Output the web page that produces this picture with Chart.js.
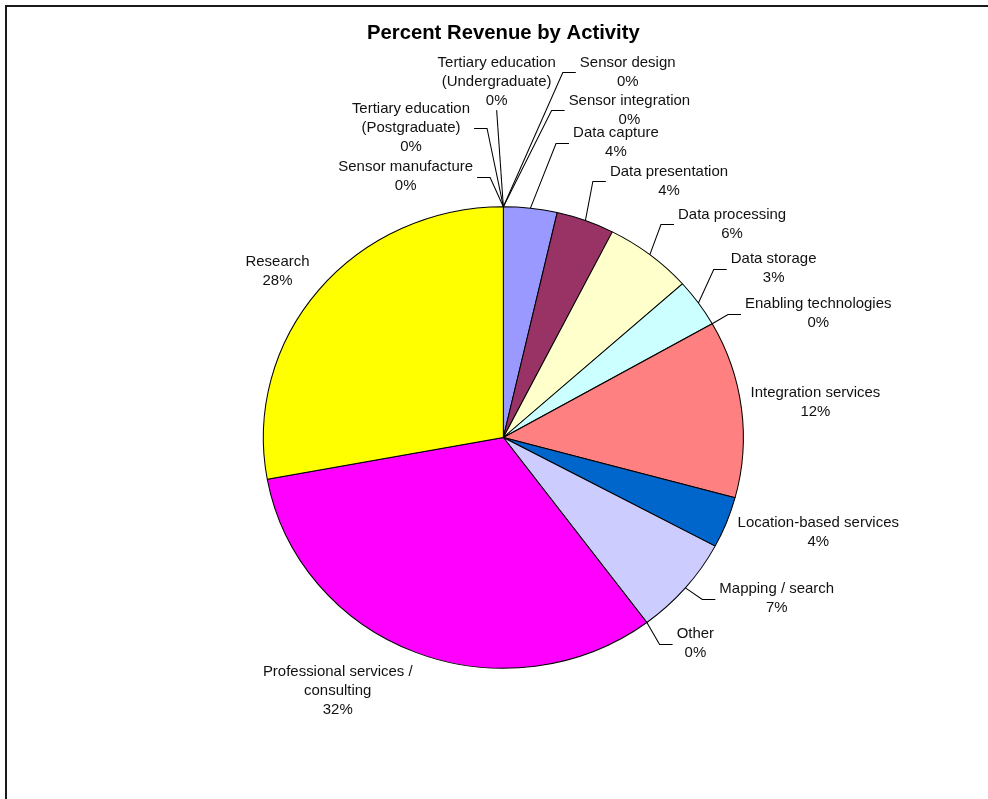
<!DOCTYPE html>
<html>
<head>
<meta charset="utf-8">
<title>Percent Revenue by Activity</title>
<script src="https://cdn.jsdelivr.net/npm/chart.js@4/dist/chart.umd.min.js"></script>
<style>
  html, body { margin: 0; padding: 0; background: #fff; }
  #frame { position: absolute; left: 0; top: 0; width: 988px; height: 799px; overflow: hidden; }
  #edge { position: absolute; left: 5px; top: 5px; right: -10px; bottom: -10px;
          border-top: 2px solid #1a1a1a; border-left: 2px solid #1a1a1a; }
  #chart { position: absolute; left: 0; top: 0; }
</style>
</head>
<body>
<div id="frame">
  <div id="edge"></div>
  <canvas id="chart" width="988" height="799"></canvas>
</div>
<script>
// Revenue share per activity (percent of total)
const categories = [
  'Data capture', 'Data presentation', 'Data processing', 'Data storage',
  'Enabling technologies', 'Integration services', 'Location-based services',
  'Mapping / search', 'Other', 'Professional services / consulting', 'Research',
  'Sensor design', 'Sensor integration', 'Sensor manufacture',
  'Tertiary education (Postgraduate)', 'Tertiary education (Undergraduate)'
];
const revenueShare = [3.6, 3.9, 5.9, 3.4, 0, 12.4, 3.6, 7.0, 0, 32.3, 27.9, 0, 0, 0, 0, 0];
const sliceColours = [
  '#9999FF', '#993366', '#FFFFCC', '#CCFFFF', '#660066', '#FF8080', '#0066CC',
  '#CCCCFF', '#000080', '#FF00FF', '#FFFF00', '#00FFFF', '#800080', '#800000',
  '#008080', '#0000FF'
];
const chartTitle = 'Percent Revenue by Activity';

// Label box centres, in pie radii from the pie centre (x right, y down)
const labelSpots = {
  'Data capture': [0.469, -1.277],
  'Data presentation': [0.690, -1.110],
  'Data processing': [0.953, -0.923],
  'Data storage': [1.126, -0.731],
  'Enabling technologies': [1.312, -0.537],
  'Integration services': [1.300, -0.150],
  'Location-based services': [1.312, 0.413],
  'Mapping / search': [1.139, 0.699],
  'Other': [0.800, 0.893],
  'Professional services / consulting': [-0.690, 1.097],
  'Research': [-0.941, -0.718],
  'Sensor design': [0.518, -1.583],
  'Sensor integration': [0.525, -1.417],
  'Sensor manufacture': [-0.407, -1.130],
  'Tertiary education (Postgraduate)': [-0.385, -1.340],
  'Tertiary education (Undergraduate)': [-0.028, -1.542]
};

const FONT = '"Liberation Sans", Arial, Helvetica, sans-serif';
const stretchX = 1.04;      // horizontal stretch of the whole drawing
const pieRadius = 230.8;
const labelFontSize = 14.4;
const labelLineH = 19;
const labelPad = 3.9;
const elbowLen = 12.5;
const wrapWidth = 165;
const leaderThreshold = 14;

const stretchPlugin = {
  id: 'stretchX',
  beforeDraw(chart) { chart.ctx.save(); chart.ctx.scale(stretchX, 1); },
  afterDraw(chart) { chart.ctx.restore(); }
};

function wrapText(ctx, text, maxW) {
  const words = text.split(' ');
  const out = [];
  let cur = '';
  words.forEach(w => {
    const t = cur ? cur + ' ' + w : w;
    if (cur && ctx.measureText(t).width > maxW) { out.push(cur); cur = w; }
    else cur = t;
  });
  if (cur) out.push(cur);
  return out;
}

const sliceLabelPlugin = {
  id: 'sliceLabels',
  afterDatasetsDraw(chart) {
    const ctx = chart.ctx;
    const meta = chart.getDatasetMeta(0);
    const values = chart.data.datasets[0].data;
    const total = values.reduce((a, b) => a + b, 0);
    ctx.save();
    ctx.font = labelFontSize + 'px ' + FONT;
    ctx.fillStyle = '#111';
    ctx.strokeStyle = '#000';
    ctx.lineWidth = 1;
    ctx.textAlign = 'center';
    ctx.textBaseline = 'middle';
    meta.data.forEach((arc, i) => {
      const p = arc.getProps(['x', 'y', 'startAngle', 'endAngle', 'outerRadius'], true);
      const mid = (p.startAngle + p.endAngle) / 2;
      const ax = p.x + Math.cos(mid) * p.outerRadius;
      const ay = p.y + Math.sin(mid) * p.outerRadius;
      const name = chart.data.labels[i];
      const lines = wrapText(ctx, name, wrapWidth);
      lines.push(Math.round(values[i] / total * 100) + '%');
      const spot = labelSpots[name];
      const bx = p.x + spot[0] * p.outerRadius;
      const by = p.y + spot[1] * p.outerRadius;
      const w = Math.max(...lines.map(l => ctx.measureText(l).width)) + 2 * labelPad;
      const h = lines.length * labelLineH;
      const left = bx - w / 2, right = bx + w / 2, top = by - h / 2, bottom = by + h / 2;
      // distance from slice anchor to label box
      const nx = Math.min(Math.max(ax, left), right);
      const ny = Math.min(Math.max(ay, top), bottom);
      const dist = Math.hypot(ax - nx, ay - ny);
      if (dist > leaderThreshold) {
        ctx.beginPath();
        ctx.moveTo(ax, ay);
        if (ax >= left && ax <= right) {
          ctx.lineTo(bx, ay < top ? top : bottom);
        } else if (ax < left) {
          ctx.lineTo(left - elbowLen, Math.round(by) + 0.5);
          ctx.lineTo(left, Math.round(by) + 0.5);
        } else {
          ctx.lineTo(right + elbowLen, Math.round(by) + 0.5);
          ctx.lineTo(right, Math.round(by) + 0.5);
        }
        ctx.stroke();
      }
      lines.forEach((l, k) => ctx.fillText(l, bx, top + labelLineH * (k + 0.5)));
    });
    ctx.restore();
  }
};

new Chart(document.getElementById('chart'), {
  type: 'pie',
  data: {
    labels: categories,
    datasets: [{
      data: revenueShare,
      backgroundColor: sliceColours,
      borderColor: '#000',
      borderWidth: 1,
      radius: pieRadius
    }]
  },
  options: {
    responsive: false,
    animation: false,
    devicePixelRatio: 1,
    events: [],
    layout: { padding: { left: 0, right: 20, top: 0, bottom: 0 } },
    plugins: {
      legend: { display: false },
      tooltip: { enabled: false },
      title: {
        display: true,
        text: chartTitle,
        color: '#000',
        font: { family: FONT, size: 19.5, weight: 'bold', lineHeight: 1.2 },
        padding: { top: 22.3, bottom: 30.3 }
      }
    }
  },
  plugins: [stretchPlugin, sliceLabelPlugin]
});
</script>
</body>
</html>
